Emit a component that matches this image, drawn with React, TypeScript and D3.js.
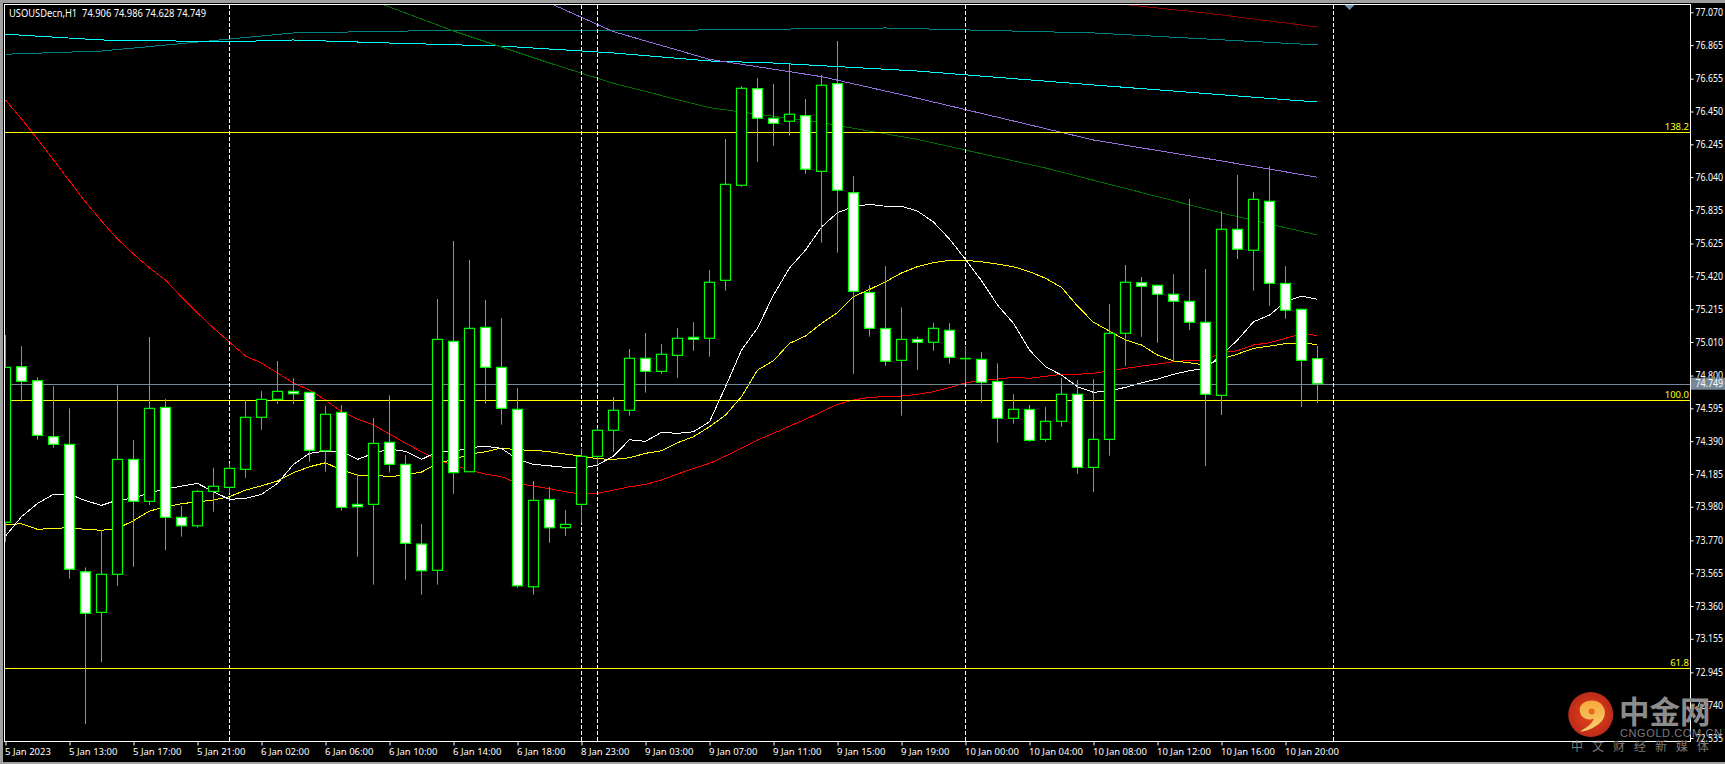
import React, { useEffect, useRef } from 'react';
import * as d3 from 'd3';

const WIDTH = 1725;
const HEIGHT = 764;

const opens = [
  73.883, 74.855, 74.768, 74.418, 74.370, 73.574, 73.320, 73.558, 74.276, 74.014,
  74.601, 73.914, 73.861, 74.076, 74.101, 74.214, 74.539, 74.651, 74.701, 74.695,
  74.330, 74.570, 73.995, 73.995, 74.383, 74.245, 73.747, 73.583, 75.014, 74.199,
  75.101, 74.851, 74.589, 73.480, 74.026, 73.849, 73.995, 74.295, 74.458, 74.583,
  74.908, 74.826, 74.926, 75.039, 75.033, 75.395, 75.989, 76.593, 76.408, 76.389,
  76.424, 76.076, 76.624, 75.943, 75.319, 75.094, 74.895, 75.026, 75.008, 75.083,
  74.907, 74.901, 74.763, 74.533, 74.588, 74.401, 74.514, 74.683, 74.226, 74.401,
  75.064, 75.380, 75.364, 75.308, 75.264, 75.133, 74.676, 75.714, 75.583, 75.889,
  75.376, 75.214, 74.906,
];
const highs = [
  75.053, 74.984, 74.789, 74.734, 74.595, 73.601, 73.834, 74.745, 74.397, 75.041,
  74.653, 73.984, 74.084, 74.224, 74.251, 74.647, 74.703, 74.891, 74.784, 74.697,
  74.609, 74.616, 74.183, 74.534, 74.676, 74.303, 73.872, 75.278, 75.641, 75.522,
  75.272, 75.159, 74.722, 74.141, 74.103, 73.959, 74.345, 74.472, 74.666, 74.966,
  75.066, 74.997, 75.097, 75.134, 75.459, 76.278, 76.609, 76.659, 76.622, 76.751,
  76.528, 76.678, 76.891, 76.047, 75.366, 75.484, 75.226, 75.043, 75.128, 75.128,
  74.984, 74.947, 74.876, 74.684, 74.616, 74.603, 74.784, 74.772, 74.778, 75.247,
  75.491, 75.416, 75.366, 75.434, 75.903, 75.466, 75.828, 76.053, 75.947, 76.109,
  75.484, 75.216, 74.986,
];
const lows = [
  73.761, 74.636, 74.399, 74.349, 73.530, 72.622, 73.009, 73.486, 73.605, 73.991,
  73.709, 73.793, 73.849, 73.949, 74.064, 74.161, 74.461, 74.622, 74.622, 74.261,
  74.199, 73.955, 73.668, 73.493, 74.193, 73.524, 73.430, 73.493, 74.061, 74.199,
  74.624, 74.493, 73.474, 73.430, 73.755, 73.797, 73.880, 74.241, 74.324, 74.549,
  74.693, 74.811, 74.786, 74.955, 74.918, 75.330, 75.980, 76.136, 76.236, 76.299,
  76.061, 75.630, 75.568, 74.811, 75.043, 74.861, 74.549, 74.836, 74.955, 74.874,
  74.751, 74.630, 74.380, 74.499, 74.386, 74.386, 74.480, 74.186, 74.072, 74.299,
  74.861, 75.043, 75.005, 74.886, 75.084, 74.234, 74.553, 75.528, 75.330, 75.236,
  75.155, 74.603, 74.628,
];
const closes = [
  74.851, 74.764, 74.426, 74.370, 73.589, 73.314, 73.558, 74.276, 74.014, 74.595,
  73.914, 73.861, 74.076, 74.108, 74.220, 74.539, 74.651, 74.701, 74.686, 74.333,
  74.558, 73.976, 73.980, 74.376, 74.245, 73.751, 73.580, 75.026, 74.193, 75.095,
  74.851, 74.595, 73.486, 74.020, 73.849, 73.870, 74.295, 74.458, 74.583, 74.908,
  74.826, 74.933, 75.033, 75.026, 75.383, 75.995, 76.595, 76.408, 76.376, 76.433,
  76.089, 76.614, 75.958, 75.326, 75.095, 74.889, 75.026, 75.008, 75.095, 74.914,
  74.905, 74.758, 74.533, 74.589, 74.395, 74.514, 74.683, 74.226, 74.401, 75.064,
  75.383, 75.358, 75.308, 75.264, 75.133, 74.683, 75.714, 75.589, 75.901, 75.376,
  75.208, 74.895, 74.749,
];

// fast / mid / 200-ish averages, one value per bar
const whiteMa = [
  73.797, 73.918, 74.001, 74.058, 74.059, 74.018, 73.989, 74.022, 74.033, 74.068,
  74.091, 74.109, 74.126, 74.074, 74.026, 74.033, 74.058, 74.126, 74.245, 74.314,
  74.328, 74.326, 74.276, 74.314, 74.341, 74.326, 74.276, 74.324, 74.324, 74.349,
  74.358, 74.345, 74.276, 74.245, 74.236, 74.226, 74.220, 74.241, 74.297, 74.399,
  74.389, 74.445, 74.439, 74.449, 74.511, 74.730, 74.959, 75.097, 75.303, 75.472,
  75.584, 75.728, 75.818, 75.855, 75.870, 75.858, 75.858, 75.828, 75.759, 75.653,
  75.526, 75.393, 75.241, 75.126, 74.959, 74.855, 74.803, 74.730, 74.695, 74.705,
  74.726, 74.755, 74.778, 74.808, 74.830, 74.845, 74.928, 75.022, 75.136, 75.178,
  75.261, 75.297, 75.276,
];
const yellowMa = [
  73.868, 73.874, 73.839, 73.845, 73.849, 73.839, 73.833, 73.845, 73.893, 73.953,
  73.980, 73.999, 74.011, 74.022, 74.043, 74.084, 74.111, 74.141, 74.193, 74.230,
  74.255, 74.209, 74.178, 74.178, 74.168, 74.178, 74.197, 74.251, 74.276, 74.308,
  74.324, 74.347, 74.336, 74.333, 74.324, 74.309, 74.297, 74.280, 74.276, 74.286,
  74.314, 74.330, 74.380, 74.418, 74.480, 74.553, 74.668, 74.834, 74.893, 75.001,
  75.047, 75.126, 75.193, 75.293, 75.338, 75.386, 75.441, 75.481, 75.505, 75.520,
  75.520, 75.511, 75.497, 75.480, 75.449, 75.408, 75.351, 75.234, 75.133, 75.078,
  75.022, 74.991, 74.928, 74.891, 74.880, 74.866, 74.903, 74.934, 74.970, 74.984,
  74.999, 75.001, 74.995,
];
const redMa = [
  76.522, 76.403, 76.278, 76.147, 76.016, 75.884, 75.766, 75.653, 75.559, 75.472,
  75.397, 75.291, 75.191, 75.097, 75.009, 74.922, 74.878, 74.816, 74.753, 74.709,
  74.647, 74.574, 74.528, 74.491, 74.434, 74.378, 74.324, 74.272, 74.241, 74.209,
  74.184, 74.168, 74.126, 74.109, 74.093, 74.074, 74.059, 74.064, 74.084, 74.105,
  74.120, 74.147, 74.184, 74.220, 74.251, 74.297, 74.345, 74.397, 74.439, 74.484,
  74.526, 74.574, 74.620, 74.647, 74.664, 74.668, 74.672, 74.683, 74.699, 74.724,
  74.755, 74.768, 74.778, 74.789, 74.783, 74.795, 74.808, 74.808, 74.814, 74.830,
  74.845, 74.859, 74.872, 74.886, 74.895, 74.897, 74.943, 74.955, 74.991, 75.005,
  75.033, 75.059, 75.051,
];

// slow averages, read at the bars where they bend
const cyanBars = [0, 6, 14, 18, 24, 31, 38, 44, 48, 57, 68, 82];
const cyanVals = [76.933, 76.897, 76.886, 76.897, 76.878, 76.859, 76.816, 76.766, 76.753, 76.703, 76.616, 76.509];
const tealBars = [0, 6, 12, 18, 25, 34, 43, 55, 68, 82];
const tealVals = [76.808, 76.828, 76.884, 76.941, 76.953, 76.959, 76.959, 76.972, 76.941, 76.866];
const purpleBars = [34, 38, 44, 51, 57, 68, 76, 82];
const purpleVals = [77.128, 76.949, 76.776, 76.668, 76.533, 76.272, 76.141, 76.039];
const greenBars = [23, 28, 34, 38, 44, 51, 57, 65, 76, 82];
const greenVals = [77.141, 76.953, 76.753, 76.626, 76.474, 76.380, 76.276, 76.097, 75.816, 75.678];
const darkRedBars = [69, 75, 82];
const darkRedVals = [77.128, 77.066, 76.978];

const fiboLevels = [76.32, 74.645, 72.97];
const fiboLabels = ['138.2', '100.0', '61.8'];
const bidPrice = 74.749;
const separatorBars = [14, 36, 37, 60, 83];

const priceTicks = [
  77.07, 76.865, 76.655, 76.45, 76.245, 76.04, 75.835, 75.625, 75.42, 75.215, 75.01, 74.8,
  74.595, 74.39, 74.185, 73.98, 73.77, 73.565, 73.36, 73.155, 72.945, 72.74, 72.535,
];
const timeLabels = [
  '5 Jan 2023', '5 Jan 13:00', '5 Jan 17:00', '5 Jan 21:00', '6 Jan 02:00', '6 Jan 06:00', '6 Jan 10:00',
  '6 Jan 14:00', '6 Jan 18:00', '8 Jan 23:00', '9 Jan 03:00', '9 Jan 07:00', '9 Jan 11:00', '9 Jan 15:00',
  '9 Jan 19:00', '10 Jan 00:00', '10 Jan 04:00', '10 Jan 08:00', '10 Jan 12:00', '10 Jan 16:00', '10 Jan 20:00',
];

const UI_FONT = '"Noto Sans", sans-serif';

export default function App() {
  const svgRef = useRef<SVGSVGElement>(null);

  useEffect(() => {
    if (!svgRef.current) return;
    const svg = d3.select(svgRef.current);
    svg.selectAll('*').remove();

    const plot = { left: 5, top: 5, right: 1690, bottom: 741 };

    const x = d3.scaleLinear().domain([0, 83]).range([5.5, 1333.5]);
    const y = d3.scaleLinear().domain([77.07, 72.535]).range([12.3, 738]);

    // window chrome
    svg.append('rect').attr('width', WIDTH).attr('height', HEIGHT).attr('fill', '#000');
    svg.append('rect').attr('width', WIDTH).attr('height', 3).attr('fill', '#a0a0a0');
    svg.append('rect').attr('width', 3).attr('height', HEIGHT).attr('fill', '#a0a0a0');
    svg.append('rect').attr('y', 762).attr('width', WIDTH).attr('height', 2).attr('fill', '#a0a0a0');

    const defs = svg.append('defs');
    defs.append('clipPath').attr('id', 'plot-clip').append('rect')
      .attr('x', plot.left).attr('y', plot.top)
      .attr('width', plot.right - plot.left).attr('height', plot.bottom - plot.top);

    const g = svg.append('g').attr('clip-path', 'url(#plot-clip)');

    // slow MAs first, then fast ones
    const line = d3.line<[number, number]>().x(d => x(d[0])).y(d => y(d[1]));
    const maLines: [number[], number[], string][] = [
      [tealBars, tealVals, '#008080'],
      [cyanBars, cyanVals, '#00ffff'],
      [darkRedBars, darkRedVals, '#8b0000'],
      [greenBars, greenVals, '#006e00'],
      [purpleBars, purpleVals, '#9370db'],
      [d3.range(redMa.length), redMa, '#ff0000'],
      [d3.range(yellowMa.length), yellowMa, '#ffff00'],
      [d3.range(whiteMa.length), whiteMa, '#ffffff'],
    ];
    maLines.forEach(([bars, vals, color]) => {
      g.append('path')
        .datum(bars.map((b, i) => [b, vals[i]] as [number, number]))
        .attr('fill', 'none')
        .attr('stroke', color)
        .attr('stroke-width', 1)
        .attr('shape-rendering', 'crispEdges')
        .attr('d', line);
    });

    // fibo levels and bid line
    const level = (price: number, color: string) =>
      g.append('line')
        .attr('x1', plot.left).attr('x2', plot.right)
        .attr('y1', Math.round(y(price)) + 0.5).attr('y2', Math.round(y(price)) + 0.5)
        .attr('stroke', color).attr('stroke-width', 1);
    level(bidPrice, '#778899');
    fiboLevels.forEach(p => level(p, '#ffff00'));

    fiboLevels.forEach((p, i) => {
      g.append('text')
        .attr('x', plot.right - 1).attr('y', y(p) - 2.5)
        .attr('text-anchor', 'end')
        .attr('font-family', UI_FONT).attr('font-size', 9.5)
        .attr('fill', '#ffff00')
        .text(fiboLabels[i]);
    });

    // period separators
    separatorBars.forEach(b => {
      g.append('line')
        .attr('x1', x(b)).attr('x2', x(b))
        .attr('y1', plot.top).attr('y2', plot.bottom)
        .attr('stroke', '#fff').attr('stroke-width', 1)
        .attr('stroke-dasharray', '4 2');
    });

    // candles
    const candles = g.selectAll('g.candle').data(d3.range(opens.length)).join('g').attr('class', 'candle');
    candles.append('line')
      .attr('x1', i => x(i)).attr('x2', i => x(i))
      .attr('y1', i => y(highs[i])).attr('y2', i => y(lows[i]))
      .attr('stroke', '#22dd22').attr('stroke-width', 1);
    candles.append('rect')
      .attr('x', i => x(i) - 5)
      .attr('width', 10)
      .attr('y', i => y(Math.max(opens[i], closes[i])))
      .attr('height', i => Math.abs(y(opens[i]) - y(closes[i])))
      .attr('fill', i => (closes[i] < opens[i] ? '#fff' : '#000'))
      .attr('stroke', '#00ff00')
      .attr('stroke-width', 1.2);

    // chart shift marker
    svg.append('path')
      .attr('d', d3.line()([[x(84) - 5, 5], [x(84) + 5, 5], [x(84), 10]]) + 'Z')
      .attr('fill', '#6f8fb5');

    // frame
    svg.append('rect')
      .attr('x', plot.left - 0.5).attr('y', plot.top - 0.5)
      .attr('width', plot.right - plot.left + 1).attr('height', plot.bottom - plot.top + 1)
      .attr('fill', 'none').attr('stroke', '#fff').attr('stroke-width', 1);

    // price axis
    const yAxis = d3.axisRight(y)
      .tickValues(priceTicks)
      .tickSize(3)
      .tickPadding(2)
      .tickFormat(d3.format('.3f') as any);
    const yG = svg.append('g').attr('transform', `translate(${plot.right + 0.5},0)`).call(yAxis);
    yG.select('.domain').remove();
    yG.selectAll('.tick line').attr('stroke', '#fff');
    yG.selectAll('.tick text')
      .attr('font-family', UI_FONT).attr('font-size', 10).attr('fill', '#fff')
      .attr('textLength', 27.5).attr('lengthAdjust', 'spacingAndGlyphs');

    // bid tag on the axis
    const bidY = y(bidPrice);
    svg.append('rect')
      .attr('x', plot.right + 1).attr('y', bidY - 6)
      .attr('width', 34).attr('height', 12)
      .attr('fill', '#778899');
    svg.append('text')
      .attr('x', plot.right + 5.5).attr('y', bidY + 3.5)
      .attr('font-family', UI_FONT).attr('font-size', 10).attr('fill', '#fff')
      .attr('textLength', 27.5).attr('lengthAdjust', 'spacingAndGlyphs')
      .text(d3.format('.3f')(bidPrice));

    // time axis, one label every 4 bars
    const timeBars = timeLabels.map((_, i) => i * 4);
    const xAxis = d3.axisBottom(x)
      .tickValues(timeBars)
      .tickSize(4)
      .tickPadding(3)
      .tickFormat((_, i) => timeLabels[i]);
    const xG = svg.append('g').attr('transform', `translate(0,${plot.bottom + 0.5})`).call(xAxis);
    xG.select('.domain').remove();
    xG.selectAll('.tick line').attr('stroke', '#fff');
    xG.selectAll('.tick text')
      .attr('text-anchor', 'start').attr('dx', -1)
      .attr('font-family', UI_FONT).attr('font-size', 9.5).attr('fill', '#fff');

    // header
    svg.append('text')
      .attr('x', 9).attr('y', 16.5)
      .attr('font-family', UI_FONT).attr('font-size', 10).attr('fill', '#fff')
      .attr('textLength', 197).attr('lengthAdjust', 'spacingAndGlyphs')
      .style('white-space', 'pre')
      .text('USOUSDecn,H1  74.906 74.986 74.628 74.749');

    // watermark
    const grad = defs.append('radialGradient').attr('id', 'logo-grad');
    grad.append('stop').attr('offset', '0%').attr('stop-color', '#e8481c');
    grad.append('stop').attr('offset', '100%').attr('stop-color', '#bd2a18');
    const swirl = defs.append('linearGradient').attr('id', 'swirl-grad')
      .attr('x1', 0).attr('y1', 0).attr('x2', 0).attr('y2', 1);
    swirl.append('stop').attr('offset', '0%').attr('stop-color', '#f7a83a');
    swirl.append('stop').attr('offset', '100%').attr('stop-color', '#f6d070');

    const logo = svg.append('g').attr('transform', 'translate(1590.7,714.5)');
    logo.append('circle').attr('r', 22.5).attr('fill', 'url(#logo-grad)');
    logo.append('path')
      .attr('d', 'M-11,-5 C-11,-14 4,-17 10,-11 C17,-5 15,6 6,11 C0,15 -6,17 -11,17 C-4,13 2,9 3,4 C-3,7 -11,3 -11,-5 Z')
      .attr('fill', 'url(#swirl-grad)');
    logo.append('circle').attr('cx', 1).attr('cy', -3).attr('r', 3).attr('fill', '#e86a20');

    svg.append('text')
      .attr('x', 1619).attr('y', 723)
      .attr('font-family', '"Noto Sans CJK SC"').attr('font-weight', 700).attr('font-size', 30.5)
      .attr('fill', '#8c8c8c')
      .text('中金网');
    svg.append('text')
      .attr('x', 1620).attr('y', 737)
      .attr('font-family', '"Liberation Sans"').attr('font-size', 11).attr('letter-spacing', 0.6)
      .attr('fill', '#7c7c7c')
      .text('CNGOLD.COM.CN');
    svg.append('text')
      .attr('x', 1571).attr('y', 751)
      .attr('font-family', '"Noto Sans CJK SC"').attr('font-size', 12).attr('letter-spacing', 9)
      .attr('fill', '#7c7c7c')
      .text('中文财经新媒体');
  }, []);

  return (
    <svg
      ref={svgRef}
      width={WIDTH}
      height={HEIGHT}
      style={{ position: 'absolute', left: 0, top: 0, display: 'block' }}
    />
  );
}
